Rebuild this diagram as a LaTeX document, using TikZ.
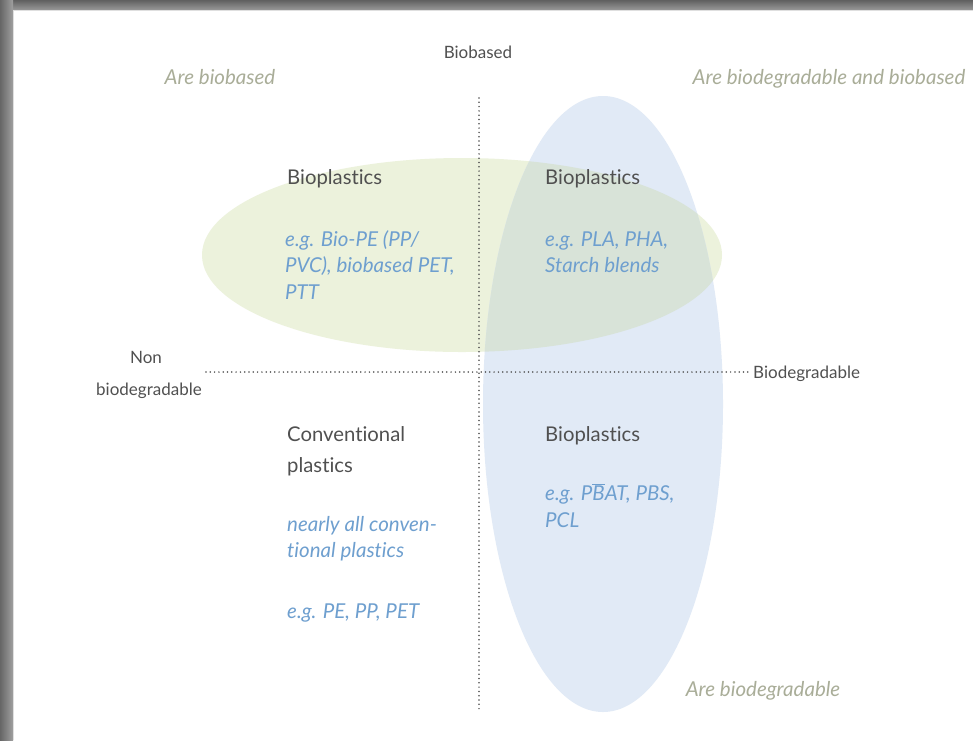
\documentclass[tikz,border=0pt]{standalone}
\usepackage{fontspec}
\setmainfont{Lato}[Ligatures={NoCommon}]
\usetikzlibrary{shadings}
\definecolor{greenfill}{HTML}{ECF2DC}
\definecolor{bluefill}{HTML}{E1EAF6}
\definecolor{overlapfill}{HTML}{D8E3D8}
\definecolor{titlegray}{HTML}{505050}
\definecolor{exblue}{HTML}{6E9FCF}
\definecolor{olivegray}{HTML}{A9AD98}
\definecolor{axisgray}{HTML}{505050}
\tikzset{
  title/.style={anchor=base west, inner sep=0pt, text=titlegray, font=\fontsize{20.3}{24}\selectfont},
  example/.style={anchor=base west, inner sep=0pt, text=exblue, font=\fontsize{20.5}{24}\selectfont\itshape},
  region/.style={anchor=base, inner sep=0pt, text=olivegray, font=\fontsize{20.5}{24}\selectfont\itshape},
  axislabel/.style={inner sep=0pt, text=axisgray, font=\fontsize{17}{20}\selectfont},
  axis/.style={axisgray, line width=1.7pt, line cap=round, dash pattern=on 0pt off 4.3pt},
}
\begin{document}
\begin{tikzpicture}[x=1pt,y=-1pt]
\useasboundingbox (0,0) rectangle (973,740);
\fill[white] (0,0) rectangle (973,740);
% frame
\shade[top color=gray!75!black, bottom color=gray!80] (0,0) rectangle (973,10);
\shade[left color=gray!80!black, right color=gray!75] (0,0) rectangle (13,740);
\fill[gray!25] (13,10) rectangle (973,11);
\fill[gray!25] (13,10) rectangle (14,740);
% ellipses
\fill[greenfill] (462,255) ellipse [x radius=260pt, y radius=97pt];
\fill[bluefill] (603,404) ellipse [x radius=120pt, y radius=308pt];
\begin{scope}
  \clip (462,255) ellipse [x radius=260pt, y radius=97pt];
  \fill[overlapfill] (603,404) ellipse [x radius=120pt, y radius=308pt];
\end{scope}
% axes
\coordinate (vtop) at (479,98);
\coordinate (vbot) at (479,712);
\coordinate (hleft) at (206,372);
\coordinate (hright) at (750,372);
\draw[axis] (vtop) -- (vbot);
\draw[axis] (hleft) -- (hright);
% axis labels
\node[axislabel, anchor=base] (biobased) at (478,58) {Biobased};
\node[axislabel, anchor=base] (non) at (146,363) {Non};
\node[axislabel, anchor=base] (nonbio) at (149,395) {biodegradable};
\node[axislabel, anchor=base west] (biodeg) at (753,378) {Biodegradable};
% region labels
\node[region] (rbio) at (220,84) {Are biobased};
\node[region] (rboth) at (829,84) {Are biodegradable and biobased};
\node[region] (rdeg) at (763,696) {Are biodegradable};
% quadrant texts
\node[title] (t1) at (287,184) {Bioplastics};
\node[example] (e1a) at (285,246) {e.g. Bio-PE (PP/};
\node[example] (e1b) at (285,272) {PVC), biobased PET,};
\node[example] (e1c) at (285,299) {PTT};
\node[title] (t2) at (545,184) {Bioplastics};
\node[example] (e2a) at (545,246) {e.g. PLA, PHA,};
\node[example] (e2b) at (545,272) {Starch blends};
\node[title] (t3a) at (287,441) {Conventional};
\node[title] (t3b) at (287,472) {plastics};
\node[example] (e3a) at (287,531) {nearly all conven-};
\node[example] (e3b) at (287,557) {tional plastics};
\node[example] (e3c) at (287,618) {e.g. PE, PP, PET};
\node[title] (t4) at (545,441) {Bioplastics};
\node[example] (e4a) at (545,500) {e.g. P$\overline{\hbox{\itshape B}}$AT, PBS,};
\node[example] (e4b) at (545,527) {PCL};
\end{tikzpicture}
\end{document}
